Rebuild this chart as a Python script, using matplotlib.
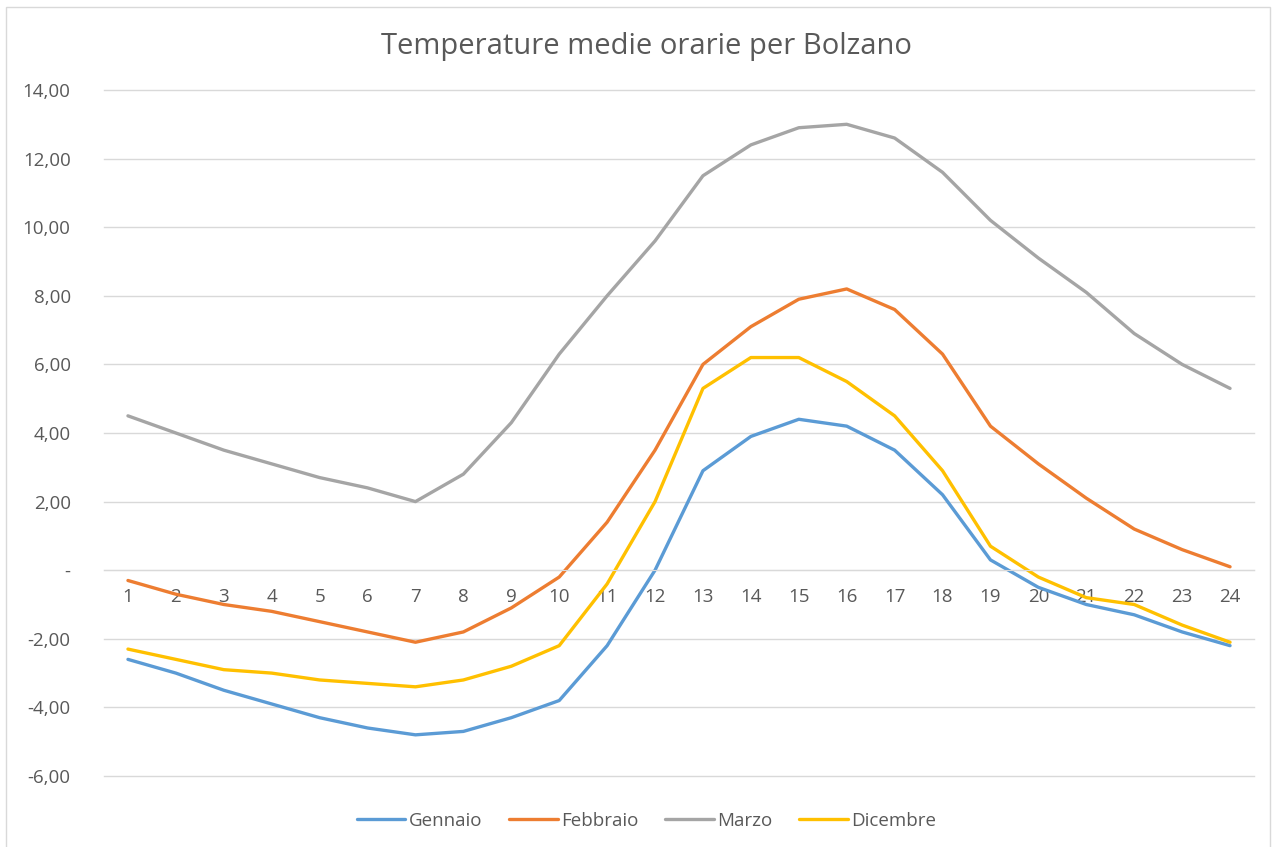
import numpy as np
import matplotlib
matplotlib.use("Agg")
import matplotlib.pyplot as plt
from matplotlib.ticker import FuncFormatter
from matplotlib.patches import Rectangle

# Ore del giorno
ore = list(range(1, 25))

# Temperature medie orarie
gennaio = [-2.6, -3.0, -3.5, -3.9, -4.3, -4.6, -4.8, -4.7, -4.3, -3.8, -2.2, 0.0,
           2.9, 3.9, 4.4, 4.2, 3.5, 2.2, 0.3, -0.5, -1.0, -1.3, -1.8, -2.2]
febbraio = [-0.3, -0.7, -1.0, -1.2, -1.5, -1.8, -2.1, -1.8, -1.1, -0.2, 1.4, 3.5,
            6.0, 7.1, 7.9, 8.2, 7.6, 6.3, 4.2, 3.1, 2.1, 1.2, 0.6, 0.1]
marzo = [4.5, 4.0, 3.5, 3.1, 2.7, 2.4, 2.0, 2.8, 4.3, 6.3, 8.0, 9.6,
         11.5, 12.4, 12.9, 13.0, 12.6, 11.6, 10.2, 9.1, 8.1, 6.9, 6.0, 5.3]
dicembre = [-2.3, -2.6, -2.9, -3.0, -3.2, -3.3, -3.4, -3.2, -2.8, -2.2, -0.4, 2.0,
            5.3, 6.2, 6.2, 5.5, 4.5, 2.9, 0.7, -0.2, -0.8, -1.0, -1.6, -2.1]

serie = [("Gennaio", gennaio, "#5B9BD5"),
         ("Febbraio", febbraio, "#ED7D31"),
         ("Marzo", marzo, "#A5A5A5"),
         ("Dicembre", dicembre, "#FFC000")]

plt.rcParams['font.family'] = ['Open Sans', 'DejaVu Sans']
text_col = "#595959"
grid_col = "#D9D9D9"

fig = plt.figure(figsize=(12.78, 8.47), dpi=100)
ax = fig.add_axes([104 / 1278, 71 / 847, 1150 / 1278, 686 / 847])

for nome, valori, colore in serie:
    ax.plot(ore, valori, color=colore, linewidth=2.4, label=nome,
            solid_joinstyle="round", solid_capstyle="round")

ax.set_xlim(0.5, 24.5)
ax.set_ylim(-6, 14)
ax.set_yticks(np.arange(-6, 15, 2))
ax.yaxis.set_major_formatter(FuncFormatter(
    lambda v, p: "-" if abs(v) < 1e-9 else f"{v:.2f}".replace(".", ",")))
ax.set_xticks(ore)
ax.set_xticklabels([str(h) for h in ore])

ax.grid(axis="y", color=grid_col, linewidth=1.0)
for g in ax.yaxis.get_gridlines():
    g.set_clip_on(False)
ax.set_axisbelow(True)
for s in ["top", "right", "left"]:
    ax.spines[s].set_visible(False)
ax.spines["bottom"].set_position(("data", 0))
ax.spines["bottom"].set_color(grid_col)
ax.tick_params(axis="both", length=0, colors=text_col, labelsize=13.5)
ax.tick_params(axis="y", pad=24)
ax.tick_params(axis="x", pad=13)

fig.text(0.506, 0.945, "Temperature medie orarie per Bolzano", ha="center",
         va="center", fontsize=21, color=text_col)

leg = fig.legend(loc="center", bbox_to_anchor=(0.506, 0.031), ncol=4,
                 frameon=False, fontsize=13.5, handlelength=2.6,
                 handletextpad=0.2, columnspacing=1.4)
for t in leg.get_texts():
    t.set_color(text_col)

# bordo dell'area grafico (il lato inferiore esce dall'immagine)
fig.patches.append(Rectangle((6 / 1278, -10 / 847), 1264 / 1278, 850 / 847,
                             transform=fig.transFigure, fill=False,
                             edgecolor="#D9D9D9", linewidth=1.0))

fig.savefig("out.png", dpi=100)
